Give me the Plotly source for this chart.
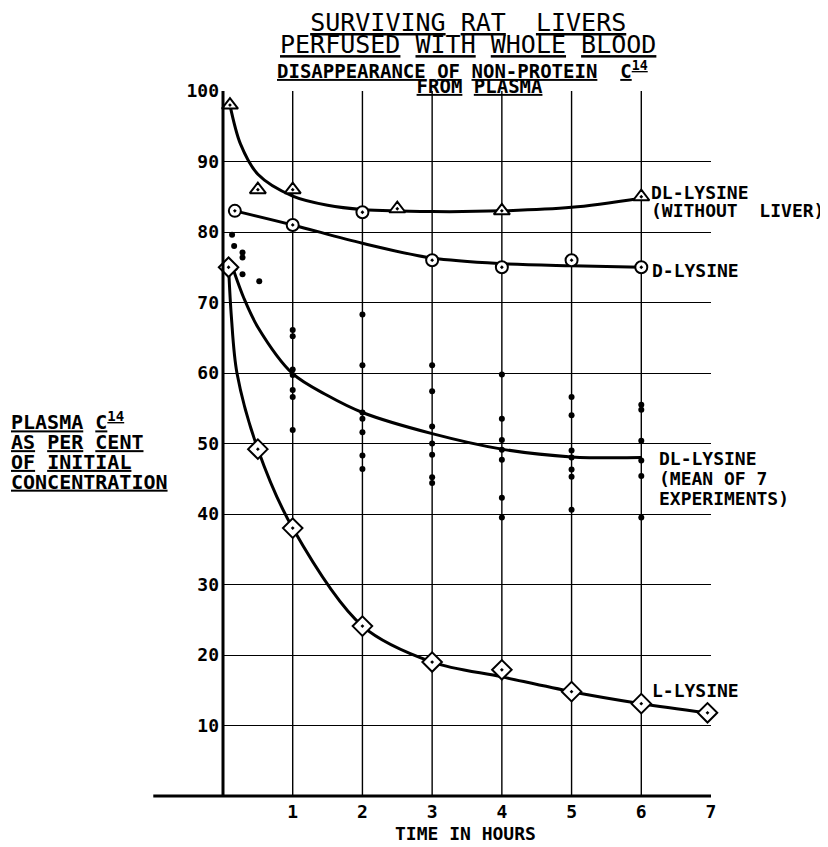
import plotly.graph_objects as go

# ---------------- data ----------------
hours_ticks = [1, 2, 3, 4, 5, 6, 7]
grid_hours = [1, 2, 3, 4, 5, 6]
pct_ticks = [10, 20, 30, 40, 50, 60, 70, 80, 90, 100]

# DL-lysine without liver (triangles) and its fitted curve
dl_noliver_t = [0.1, 0.5, 1, 2.5, 4, 6]
dl_noliver_v = [98, 86, 86, 83.3, 83, 85]
dl_noliver_circle_t = [2]
dl_noliver_circle_v = [82.8]
dl_noliver_curve_t = [0.1, 0.25, 0.5, 1, 1.5, 2, 3, 4, 5, 6]
dl_noliver_curve_v = [98, 92.5, 88.2, 85.1, 83.8, 83.2, 82.9, 83.0, 83.5, 84.8]

# D-lysine (circles)
d_t = [0.17, 1, 3, 4, 5, 6]
d_v = [83, 81, 76, 75, 76, 75]
d_curve_t = [0.17, 1, 2, 3, 4, 5, 6]
d_curve_v = [83, 81, 78.4, 76.3, 75.5, 75.2, 75.0]

# L-lysine (diamonds)
l_t = [0.08, 0.5, 1, 2, 3, 4, 5, 6, 6.95]
l_v = [75, 49.2, 38, 24.1, 19, 17.9, 14.8, 13.1, 11.8]
l_curve_t = [0.08, 0.12, 0.2, 0.5, 1, 2, 3, 4, 5, 6, 6.95]
l_curve_v = [75, 68, 60, 49.2, 38, 24.1, 19, 16.9, 14.8, 13.1, 11.8]

# DL-lysine mean of 7 experiments (curve) and individual experiments (dots)
dl_mean_t = [0.15, 0.3, 0.5, 1, 1.5, 2, 3, 4, 5, 6]
dl_mean_v = [74.6, 70.6, 66.5, 59.9, 56.8, 54.4, 51.4, 49.2, 48.1, 48.0]

early_dot_t = [0.13, 0.16, 0.28, 0.28, 0.17, 0.28, 0.52]
early_dot_v = [79.6, 78.0, 77.1, 76.4, 74.9, 74.0, 73.0]
dots_1h = [66.1, 65.2, 60.5, 59.7, 57.6, 56.6, 51.9]
dots_2h = [68.3, 61.1, 54.4, 53.5, 51.6, 48.3, 46.4]
dots_3h = [61.1, 57.4, 52.4, 50.0, 48.4, 45.2, 44.4]
dots_4h = [59.8, 53.5, 50.5, 49.1, 47.7, 42.3, 39.5]
dots_5h = [56.6, 54.0, 49.0, 48.0, 46.3, 45.3, 40.6]
dots_6h = [55.5, 54.8, 50.4, 47.6, 45.4, 39.5]

dot_groups = {1: dots_1h, 2: dots_2h, 3: dots_3h, 4: dots_4h, 5: dots_5h, 6: dots_6h}
dot_t = list(early_dot_t)
dot_v = list(early_dot_v)
for h, vals in dot_groups.items():
    dot_t += [h] * len(vals)
    dot_v += vals

MONO = "DejaVu Sans Mono"
NB = "\u00a0"

fig = go.Figure()

curve_style = dict(mode="lines", line=dict(color="black", width=3, shape="spline", smoothing=0.9),
                   hoverinfo="skip", showlegend=False)
fig.add_trace(go.Scatter(x=dl_noliver_curve_t, y=dl_noliver_curve_v, **curve_style))
fig.add_trace(go.Scatter(x=d_curve_t, y=d_curve_v, **curve_style))
fig.add_trace(go.Scatter(x=dl_mean_t, y=dl_mean_v, **curve_style))
fig.add_trace(go.Scatter(x=l_curve_t, y=l_curve_v, **curve_style))

fig.add_trace(go.Scatter(x=dot_t, y=dot_v, mode="markers", showlegend=False, cliponaxis=False,
                         marker=dict(color="black", size=6, line=dict(width=0))))

def open_marker(sym, size):
    return dict(symbol=sym, size=size, color="white", line=dict(color="black", width=2))

fig.add_trace(go.Scatter(x=dl_noliver_t, y=dl_noliver_v, mode="markers", showlegend=False,
                         cliponaxis=False, marker=open_marker("triangle-up-dot", 14)))
fig.add_trace(go.Scatter(x=dl_noliver_circle_t, y=dl_noliver_circle_v, mode="markers",
                         showlegend=False, cliponaxis=False, marker=open_marker("circle-dot", 12)))
fig.add_trace(go.Scatter(x=d_t, y=d_v, mode="markers", showlegend=False, cliponaxis=False,
                         marker=open_marker("circle-dot", 12)))
fig.add_trace(go.Scatter(x=l_t, y=l_v, mode="markers", showlegend=False, cliponaxis=False,
                         marker=open_marker("diamond-dot", 15)))

# grid and axes lines
shapes = []
for h in grid_hours:
    shapes.append(dict(type="line", xref="x", yref="paper", x0=h, x1=h, y0=0, y1=1,
                       line=dict(color="black", width=1.4), layer="below"))
shapes.append(dict(type="line", xref="paper", yref="paper", x0=0, x1=0, y0=0, y1=1,
                   line=dict(color="black", width=3)))
shapes.append(dict(type="line", xref="paper", yref="paper", x0=-1 / 7, x1=1, y0=0, y1=0,
                   line=dict(color="black", width=3)))


def u_words(s):
    return " ".join("<u>" + w + "</u>" for w in s.split(" "))


def sized(lines, px):
    return "<br>".join("<span style='font-size:%dpx'>%s</span>" % (px, ln) for ln in lines)


ann = []
# Title (two groups; line spacing set by the base font size)
ann.append(dict(
    text=sized(["<u>SURVIVING</u> <u>RAT</u>" + NB + " <u>LIVERS</u>",
                u_words("PERFUSED WITH WHOLE BLOOD")], 25),
    xref="paper", yref="paper", x=0.503, y=(796 - 34) / 705, xanchor="center", yanchor="middle",
    showarrow=False, align="center", font=dict(family=MONO, size=17, color="black")))
ann.append(dict(
    text="<b>" + sized([u_words("DISAPPEARANCE OF NON-PROTEIN") + NB + " <u>C<sup>14</sup></u>",
                        NB * 3 + u_words("FROM PLASMA")], 19) + "</b>",
    xref="paper", yref="paper", x=0.49, y=(796 - 77.5) / 705, xanchor="center", yanchor="middle",
    showarrow=False, align="center", font=dict(family=MONO, size=11.5, color="black")))

# y-axis label block
ylab_lines = ["<u>PLASMA</u> <u>C<sup>14</sup></u>", u_words("AS PER CENT"),
              u_words("OF INITIAL"), u_words("CONCENTRATION")]
ann.append(dict(text="<b>" + sized(ylab_lines, 20) + "</b>", xref="paper", yref="paper",
                x=(9 - 223) / 488, y=(796 - 451.3) / 705, xanchor="left", yanchor="middle",
                align="left", showarrow=False, font=dict(family=MONO, size=15.2, color="black")))

# series labels: (lines, x in hours, y in percent, base size for line spacing)
series_labels = [
    (["DL-LYSINE", "(WITHOUT" + NB + " LIVER)"], 6.11, 84.3, 14.2),
    (["D-LYSINE"], 6.12, 74.6, 18),
    (["DL-LYSINE", "(MEAN OF 7", "EXPERIMENTS)"], 6.23, 45.1, 15.4),
    (["L-LYSINE"], 6.12, 15.0, 18),
]
for lines, x, y, base in series_labels:
    ann.append(dict(text="<b>" + sized(lines, 18) + "</b>", xref="x", yref="y", x=x, y=y,
                    xanchor="left", yanchor="middle", align="left", showarrow=False,
                    font=dict(family=MONO, size=base, color="black")))

# x axis title
ann.append(dict(text="<b>TIME IN HOURS</b>", xref="paper", yref="paper", x=0.496,
                y=(796 - 833) / 705, xanchor="center", yanchor="middle", showarrow=False,
                font=dict(family=MONO, size=18, color="black")))

# the page adds an 8 px body margin, so the figure is 8 px smaller and offsets shrink by 8
fig.update_layout(
    width=820, height=839,
    margin=dict(l=215, r=117, t=83, b=51),
    paper_bgcolor="white", plot_bgcolor="white",
    shapes=shapes, annotations=ann, showlegend=False,
    xaxis=dict(range=[0, 7], tickvals=hours_ticks, ticktext=[str(h) for h in hours_ticks],
               showgrid=False, zeroline=False, showline=False, ticks="",
               ticklabelstandoff=3,
               tickfont=dict(family=MONO, size=18, color="black", weight="bold")),
    yaxis=dict(range=[0, 100], tickvals=pct_ticks, ticktext=[str(v) for v in pct_ticks],
               showgrid=True, gridcolor="black", gridwidth=1.4, zeroline=False,
               showline=False, ticks="", ticklabelstandoff=3,
               tickfont=dict(family=MONO, size=18, color="black", weight="bold")),
)

fig.write_html("out.html")
